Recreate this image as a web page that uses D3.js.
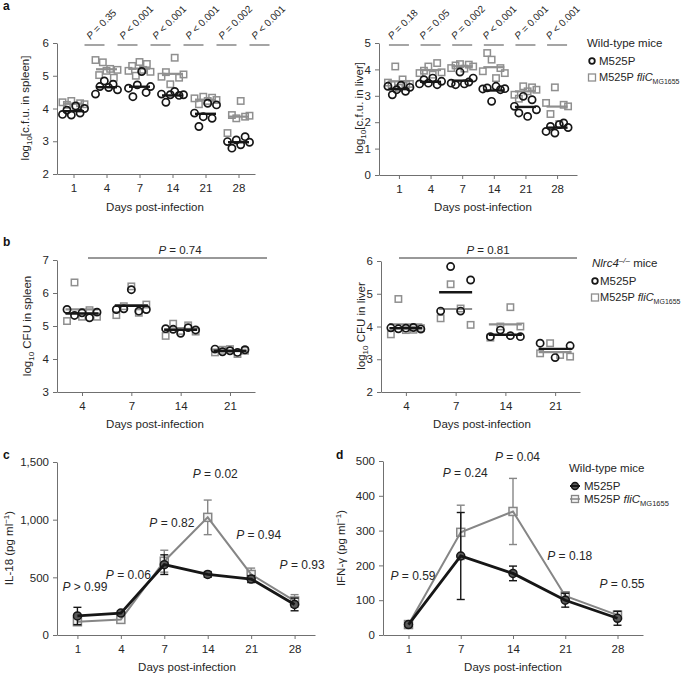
<!DOCTYPE html>
<html><head><meta charset="utf-8">
<script src="https://cdn.jsdelivr.net/npm/d3@7"></script>
<style>
body{margin:0;background:#fff}
svg{display:block}
text{font-family:"Liberation Sans",Arial,Helvetica,sans-serif}
</style>
</head><body>
<svg id="fig" width="685" height="673"></svg>
<script>
// ---------------- DATA ----------------
const daysA = ["1","4","7","14","21","28"];
// panel a, spleen (wild-type mice)
const spleenM525P = [
  [3.82,3.95,3.80,4.08,3.86,4.00],
  [4.44,4.67,4.84,4.64,4.74,4.57],
  [4.62,4.36,4.72,5.13,4.49,4.67],
  [4.44,4.19,4.42,4.52,4.40,4.42],
  [3.86,3.45,3.75,4.16,3.70,4.11],
  [2.99,2.79,3.04,2.89,3.14,2.97]];
const spleenFliC = [
  [4.19,4.11,4.23,4.06,4.16,4.13],
  [5.48,5.02,5.41,5.15,5.21,4.94,5.18],
  [5.15,5.30,5.00,5.42,5.18,5.36,5.12],
  [4.97,5.11,4.74,5.55,4.94,5.04],
  [4.31,4.13,4.36,4.23,4.33,4.26],
  [3.25,3.80,3.70,4.23,3.75,3.78]];
const spleenP = ["P = 0.35","P < 0.001","P < 0.001","P < 0.001","P = 0.002","P < 0.001"];
// panel a, liver
const liverM525P = [
  [3.36,3.04,3.23,3.40,3.17,3.32],
  [3.45,3.61,3.48,3.67,3.42,3.55],
  [3.48,3.42,3.90,3.45,3.52,3.67],
  [3.26,3.30,2.79,3.36,3.23,3.27],
  [2.60,2.35,2.98,2.22,2.85,2.47],
  [1.65,1.84,1.59,1.91,1.97,1.80]];
const liverFliC = [
  [3.50,3.42,4.11,3.30,3.62,3.45,3.45],
  [3.86,3.95,4.11,3.80,4.24,3.89],
  [4.05,4.15,4.20,4.03,4.18,4.11],
  [3.93,4.62,4.37,3.67,4.05,3.86],
  [3.04,2.89,3.36,3.17,3.32,3.23],
  [2.73,2.31,3.32,1.93,2.66,2.60]];
const liverP = ["P = 0.18","P = 0.05","P = 0.002","P < 0.001","P = 0.001","P < 0.001"];
// panel b (Nlrc4-/- mice)
const daysB = ["4","7","14","21"];
const nlrcSpleenM525P = [[5.50,5.32,5.40,5.25,5.42],[5.50,5.52,6.10,5.45,5.50],[4.92,4.90,4.78,4.95,4.88],[4.30,4.22,4.25,4.20,4.28]];
const nlrcSpleenFliC  = [[5.15,6.32,5.28,5.48,5.28],[5.33,5.60,6.20,5.40,5.65],[4.70,5.07,4.85,5.02,4.83],[4.20,4.28,4.30,4.15,4.25]];
const nlrcLiverM525P  = [[3.96,3.93,3.95,3.97,3.92],[4.47,5.83,4.47,5.42],[3.69,3.89,3.72,3.69],[3.49,3.05,3.41]];
const nlrcLiverFliC   = [[3.76,4.84,3.89,3.90,3.95],[4.25,5.29,4.55,4.05],[3.66,4.00,4.59,4.00],[3.18,3.49,3.13,3.08]];
const nlrcSpleenP = "P = 0.74";
const nlrcLiverP = "P = 0.81";
// panel c IL-18
const daysC = ["1","4","7","14","21","28"];
const il18M525P = [165,190,610,525,485,265];
const il18M525PErr = [75,20,85,25,30,55];
const il18FliC = [115,135,640,1020,525,295];
const il18FliCErr = [25,15,95,150,55,55];
const il18P = ["P > 0.99","P = 0.06","P = 0.82","P = 0.02","P = 0.94","P = 0.93"];
const il18PAt = [416,520,971,1396,867,607];     // label anchor (value units)
// panel d IFN-gamma
const daysD = ["1","7","14","21","28"];
const ifnM525P = [30,227,177,100,48];
const ifnM525PErr = [5,125,21,20,20];
const ifnFliC = [30,295,355,112,57];
const ifnFliCErr = [5,78,95,12,12];
const ifnP = ["P = 0.59","P = 0.24","P = 0.04","P = 0.18","P = 0.55"];
const ifnPAt = [170,466,511,227,147];

// ---------------- DRAWING ----------------
const FONT = '"Liberation Sans",Arial,Helvetica,sans-serif';
const GRAY = "#8f8f8f", BLACK = "#161616", AX = "#707070", TXT = "#262626";
const svg = d3.select("#fig");

function pText(g, str, size) {
  const t = g.append("text").attr("fill", TXT).style("font-size", size + "px");
  t.append("tspan").style("font-style", "italic").text(str.slice(0, 1));
  t.append("tspan").text(str.slice(1));
  return t;
}
function fliText(t, sub) {
  t.append("tspan").text("M525P ");
  t.append("tspan").style("font-style", "italic").text("fliC");
  t.append("tspan").attr("dy", 3).style("font-size", (sub||7.5) + "px").text("MG1655");
}
function drawAxes(x, y, yTicks, fmt) {
  const xa = svg.append("g").attr("transform", `translate(0,${y.range()[0]})`)
    .call(d3.axisBottom(x).tickSize(4).tickSizeOuter(0).tickPadding(6));
  const ya = svg.append("g").attr("transform", `translate(${x.range()[0]},0)`)
    .call(d3.axisLeft(y).tickValues(yTicks).tickFormat(fmt).tickSize(4).tickSizeOuter(0).tickPadding(4));
  [xa, ya].forEach(a => {
    a.attr("font-family", FONT).attr("font-size", null);
    a.selectAll("path,line").attr("stroke", AX).attr("stroke-width", 1);
    a.selectAll("text").attr("fill", TXT).style("font-size", "11.5px");
  });
}
function xTitle(cx, y) {
  svg.append("text").attr("x", cx).attr("y", y).attr("text-anchor", "middle")
    .attr("fill", TXT).style("font-size", "11.5px").text("Days post-infection");
}
function yTitleLog(cx, cy, rest) {
  const t = svg.append("text").attr("transform", `translate(${cx},${cy}) rotate(-90)`)
    .attr("text-anchor", "middle").attr("fill", TXT).style("font-size", "11.5px");
  t.append("tspan").text("log");
  t.append("tspan").attr("dy", 3).style("font-size", "8px").text("10");
  t.append("tspan").attr("dy", -3).text(rest);
}
function yTitleUnit(cx, cy, name) {
  const t = svg.append("text").attr("transform", `translate(${cx},${cy}) rotate(-90)`)
    .attr("text-anchor", "middle").attr("fill", TXT).style("font-size", "11.5px");
  t.append("tspan").text(name + " (pg ml");
  t.append("tspan").attr("dy", -4).style("font-size", "8px").text("\u22121");
  t.append("tspan").attr("dy", 4).text(")");
}
function letter(ch, x, y) {
  svg.append("text").attr("x", x).attr("y", y).style("font-weight", "bold")
    .style("font-size", "12px").attr("fill", "#111").text(ch);
}

function scatter(o) {
  const x = d3.scalePoint().domain(o.cats).range(o.xr).padding(o.pad);
  const y = d3.scaleLinear().domain(o.yd).range(o.yr);
  drawAxes(x, y, d3.range(o.yd[0], o.yd[1] + 1), d3.format("d"));
  const g = svg.append("g");
  const pos = (c, n, i) => n < 2 ? x(c) : x(c) - o.half + 2 * o.half * i / (n - 1);
  o.cats.forEach((c, k) => {
    const sq = o.squares[k], ci = o.circles[k];
    const sz = 6.4;
    g.selectAll(null).data(sq).join("rect")
      .attr("x", (d, i) => pos(c, sq.length, i) - sz / 2).attr("y", d => y(d) - sz / 2)
      .attr("width", sz).attr("height", sz).attr("fill", "none")
      .attr("stroke", GRAY).attr("stroke-width", 1.5);
    g.append("line").attr("x1", x(c) - o.meanW / 2).attr("x2", x(c) + o.meanW / 2)
      .attr("y1", y(d3.mean(sq))).attr("y2", y(d3.mean(sq)))
      .attr("stroke", GRAY).attr("stroke-width", 2.2);
    g.selectAll(null).data(ci).join("circle")
      .attr("cx", (d, i) => pos(c, ci.length, i)).attr("cy", d => y(d)).attr("r", 3.6)
      .attr("fill", "none").attr("stroke", BLACK).attr("stroke-width", 1.7);
    g.append("line").attr("x1", x(c) - o.meanW / 2).attr("x2", x(c) + o.meanW / 2)
      .attr("y1", y(d3.mean(ci))).attr("y2", y(d3.mean(ci)))
      .attr("stroke", BLACK).attr("stroke-width", 2.4);
  });
  return { x, y };
}

function legendScatter(x, y0, mx, tx, head) {
  const g = svg.append("g");
  const h = g.append("text").attr("x", x).attr("y", y0).attr("fill", TXT).style("font-size", "11.5px");
  head(h);
  g.append("circle").attr("cx", mx).attr("cy", y0 + 14).attr("r", 2.8)
    .attr("fill", "none").attr("stroke", BLACK).attr("stroke-width", 1.8);
  g.append("text").attr("x", tx).attr("y", y0 + 18).attr("fill", TXT).style("font-size", "11.5px").text("M525P");
  g.append("rect").attr("x", mx - 3.5).attr("y", y0 + 27).attr("width", 7).attr("height", 7)
    .attr("fill", "none").attr("stroke", GRAY).attr("stroke-width", 1.3);
  fliText(g.append("text").attr("x", tx).attr("y", y0 + 34).attr("fill", TXT).style("font-size", "11px"), 7);
}

// ---- panel a, spleen
{
  const { x } = scatter({ cats: daysA, xr: [57, 255], pad: 0.5, yd: [2, 6], yr: [174, 43],
    circles: spleenM525P, squares: spleenFliC, half: 11, meanW: 21 });
  daysA.forEach((c, i) => {
    const cx = x(c) + 21;
    svg.append("line").attr("x1", cx - 10).attr("x2", cx + 10).attr("y1", 45).attr("y2", 45)
      .attr("stroke", GRAY).attr("stroke-width", 1.6);
    pText(svg, spleenP[i], 10).attr("transform", `translate(${cx - 4},40) rotate(-45)`);
  });
  yTitleLog(29, 108, "[c.f.u. in spleen]");
  xTitle(155, 211);
  letter("a", 3, 10);
}
// ---- panel a, liver
{
  const { x } = scatter({ cats: daysA, xr: [379, 577], pad: 0.63, yd: [0, 5], yr: [175, 43],
    circles: liverM525P, squares: liverFliC, half: 11, meanW: 21 });
  daysA.forEach((c, i) => {
    const cx = x(c);
    svg.append("line").attr("x1", cx - 10).attr("x2", cx + 10).attr("y1", 45).attr("y2", 45)
      .attr("stroke", GRAY).attr("stroke-width", 1.6);
    pText(svg, liverP[i], 10).attr("transform", `translate(${cx - 7},40) rotate(-45)`);
  });
  yTitleLog(363, 108, "[c.f.u. in liver]");
  xTitle(483, 211);
  legendScatter(587, 47, 592, 599, t => t.text("Wild-type mice"));
}
// ---- panel b, spleen
{
  scatter({ cats: daysB, xr: [57, 255], pad: 0.507, yd: [3, 7], yr: [392, 260],
    circles: nlrcSpleenM525P, squares: nlrcSpleenFliC, half: 15, meanW: 33 });
  svg.append("line").attr("x1", 88).attr("x2", 267).attr("y1", 258).attr("y2", 258)
    .attr("stroke", "#333").attr("stroke-width", 1);
  pText(svg, nlrcSpleenP, 11.5).attr("x", 180).attr("y", 254).attr("text-anchor", "middle");
  yTitleLog(31, 326, " CFU in spleen");
  xTitle(155, 428);
  letter("b", 3, 246);
}
// ---- panel b, liver
{
  scatter({ cats: daysB, xr: [381, 580], pad: 0.5, yd: [2, 6], yr: [392, 261],
    circles: nlrcLiverM525P, squares: nlrcLiverFliC, half: 15, meanW: 33 });
  svg.append("line").attr("x1", 399).attr("x2", 577).attr("y1", 258).attr("y2", 258)
    .attr("stroke", "#333").attr("stroke-width", 1);
  pText(svg, nlrcLiverP, 11.5).attr("x", 488).attr("y", 254).attr("text-anchor", "middle");
  yTitleLog(365, 326, " CFU in liver");
  xTitle(482, 428);
  legendScatter(592, 267, 595, 600, t => {
    t.append("tspan").style("font-style", "italic").text("Nlrc4");
    t.append("tspan").attr("dy", -4).style("font-size", "8px").style("font-style", "italic").text("\u2013/\u2013");
    t.append("tspan").attr("dy", 4).text(" mice");
  });
}

// ---- line panels
function linePanel(o) {
  const x = d3.scalePoint().domain(o.cats).range(o.xr).padding(o.pad);
  const y = d3.scaleLinear().domain(o.yd).range(o.yr);
  drawAxes(x, y, o.ticks, d3.format(","));
  const series = [
    { v: o.fli, e: o.fliErr, col: "#868686", w: 2, shape: "sq" },
    { v: o.m, e: o.mErr, col: BLACK, w: 2.8, shape: "ci" }];
  series.forEach(s => {
    const g = svg.append("g");
    o.cats.forEach((c, i) => {
      const xc = x(c), y1 = y(s.v[i] + s.e[i]), y2 = y(s.v[i] - s.e[i]);
      g.append("line").attr("x1", xc).attr("x2", xc).attr("y1", y1).attr("y2", y2)
        .attr("stroke", s.col).attr("stroke-width", 1.4);
      [y1, y2].forEach(yy => g.append("line").attr("x1", xc - 4).attr("x2", xc + 4)
        .attr("y1", yy).attr("y2", yy).attr("stroke", s.col).attr("stroke-width", 1.4));
    });
    if (s.shape === "sq") {
      g.selectAll(null).data(s.v).join("rect")
        .attr("x", (d, i) => x(o.cats[i]) - 4).attr("y", d => y(d) - 4)
        .attr("width", 8).attr("height", 8).attr("fill", "#f4f4f4")
        .attr("stroke", s.col).attr("stroke-width", 1.5);
    } else {
      g.selectAll(null).data(s.v).join("circle")
        .attr("cx", (d, i) => x(o.cats[i])).attr("cy", d => y(d)).attr("r", 4)
        .attr("fill", "#5a5a5a").attr("stroke", s.col).attr("stroke-width", 1.5);
    }
    g.append("path").datum(s.v)
      .attr("d", d3.line().x((d, i) => x(o.cats[i])).y(d => y(d)))
      .attr("fill", "none").attr("stroke", s.col).attr("stroke-width", s.w);
  });
  o.p.forEach((str, i) => {
    pText(svg, str, 12).attr("x", x(o.cats[i]) + o.pdx).attr("y", y(o.pAt[i]) + 4);
  });
  return { x, y };
}
{
  linePanel({ cats: daysC, xr: [57, 315], pad: 0.47, yd: [0, 1500], yr: [635, 462],
    ticks: [0, 500, 1000, 1500], m: il18M525P, mErr: il18M525PErr, fli: il18FliC, fliErr: il18FliCErr,
    p: il18P, pAt: il18PAt, pdx: -15 });
  yTitleUnit(13, 548, "IL-18");
  xTitle(187, 671);
  letter("c", 3, 459);
}
{
  linePanel({ cats: daysD, xr: [383, 643], pad: 0.488, yd: [0, 500], yr: [635, 461],
    ticks: [0, 100, 200, 300, 400, 500], m: ifnM525P, mErr: ifnM525PErr, fli: ifnFliC, fliErr: ifnFliCErr,
    p: ifnP, pAt: ifnPAt, pdx: -18 });
  yTitleUnit(345, 548, "IFN-\u03b3");
  xTitle(513, 671);
  letter("d", 336, 459);
  const lx = 569, ly = 472;
  svg.append("text").attr("x", lx).attr("y", ly).attr("fill", TXT).style("font-size", "11.5px").text("Wild-type mice");
  svg.append("circle").attr("cx", lx + 6).attr("cy", ly + 14).attr("r", 3.5)
    .attr("fill", "#5a5a5a").attr("stroke", BLACK).attr("stroke-width", 1.5);
  svg.append("line").attr("x1", lx + 1).attr("x2", lx + 11).attr("y1", ly + 14).attr("y2", ly + 14)
    .attr("stroke", BLACK).attr("stroke-width", 2);
  svg.append("text").attr("x", lx + 15).attr("y", ly + 18).attr("fill", TXT).style("font-size", "11.5px").text("M525P");
  svg.append("rect").attr("x", lx + 2.5).attr("y", ly + 23.5).attr("width", 7).attr("height", 7)
    .attr("fill", "#f4f4f4").attr("stroke", "#868686").attr("stroke-width", 1.3);
  svg.append("line").attr("x1", lx + 1).attr("x2", lx + 11).attr("y1", ly + 27).attr("y2", ly + 27)
    .attr("stroke", "#868686").attr("stroke-width", 1.5);
  fliText(svg.append("text").attr("x", lx + 15).attr("y", ly + 31).attr("fill", TXT).style("font-size", "11.5px"));
}
</script>
</body></html>
